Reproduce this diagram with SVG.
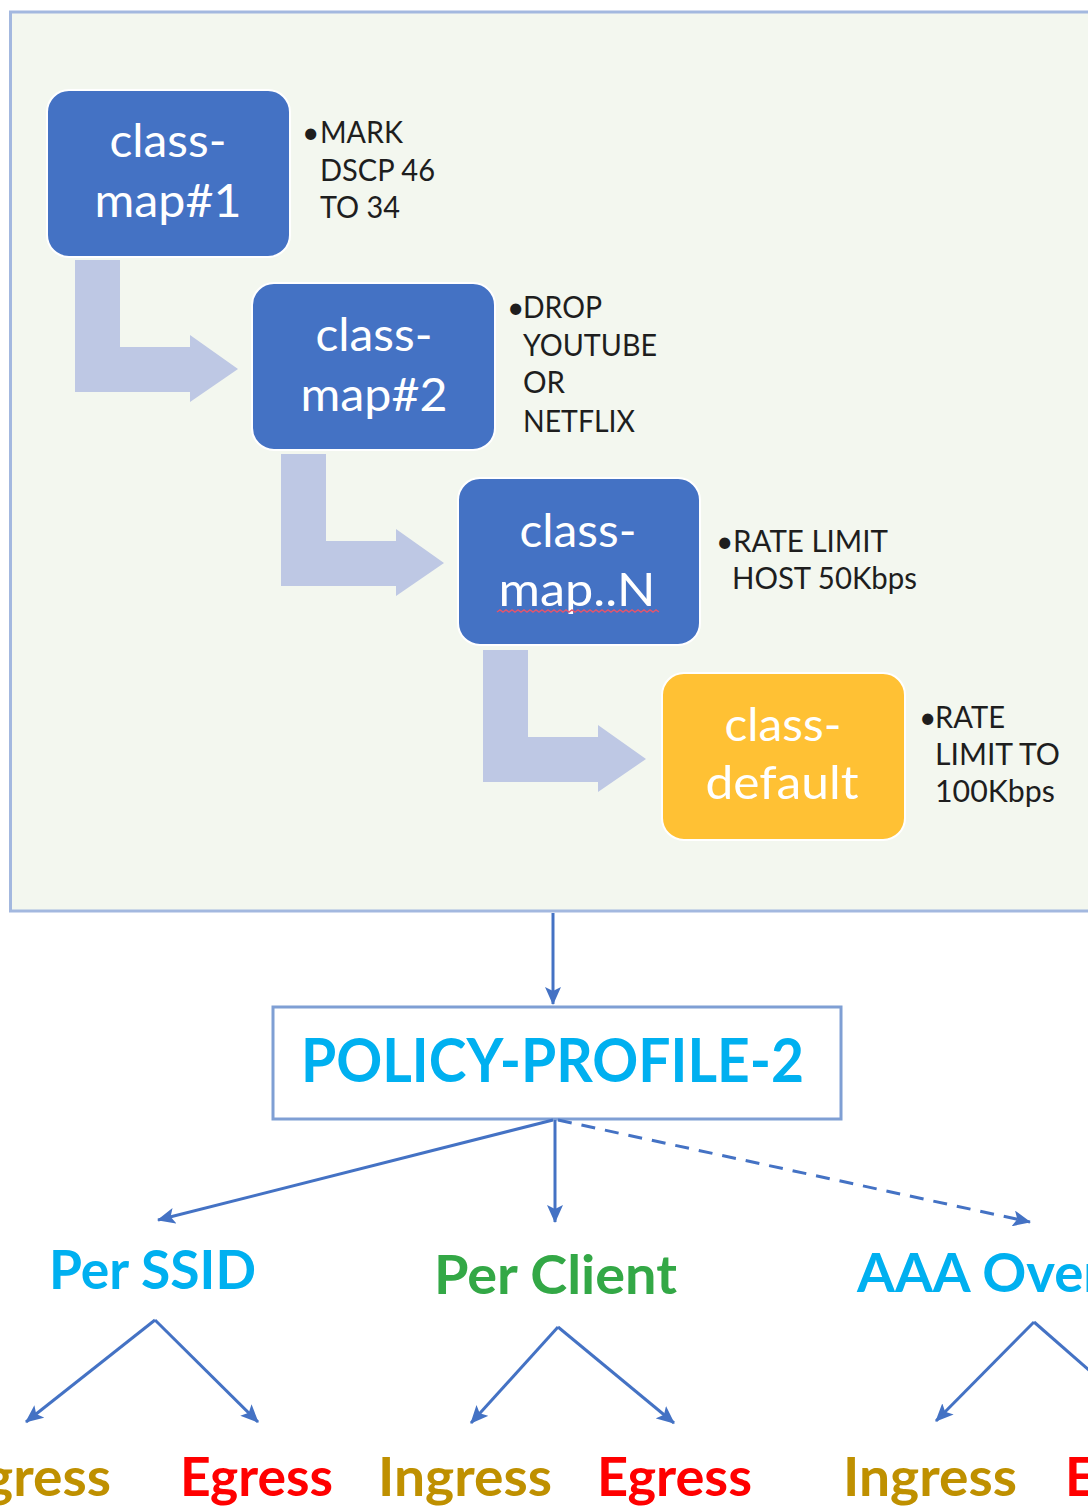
<svg xmlns="http://www.w3.org/2000/svg" width="1088" height="1506" viewBox="0 0 1088 1506">
<style>
text{font-family:Lato,"Liberation Sans",sans-serif}
.box{fill:#4472C4;stroke:#FFFFFF;stroke-width:2}
.boxd{fill:#FFC134;stroke:#FFFFFF;stroke-width:2}
.bt{fill:#FFFFFF;font-size:47px;text-anchor:middle}
.an{fill:#1E1E1E;font-size:30px}
.bent{fill:#BEC8E4}
.con{stroke:#4472C4;stroke-width:3;fill:none}
.lvl{font-size:54px;font-weight:bold}
.io{font-size:53px;font-weight:bold}
</style>
<defs>
<marker id="ah" markerUnits="userSpaceOnUse" markerWidth="18" markerHeight="16" refX="17" refY="8" orient="auto">
<path d="M0,0 L18,8 L0,16 L4,8 Z" fill="#4472C4"/>
</marker>
</defs>
<rect width="1088" height="1506" fill="#FFFFFF"/>
<g id="panel">
<rect x="10.5" y="12" width="1100" height="899" fill="#F3F7EF" stroke="#A3B8DF" stroke-width="3"/>
<path class="bent" d="M75,260 H120 V347 H190 V335 L238,369 L190,402 V392 H75 Z"/>
<path class="bent" d="M281,454 H326 V541 H396 V529 L444,563 L396,596 V586 H281 Z"/>
<path class="bent" d="M483,650 H528 V737 H598 V725 L646,759 L598,792 V782 H483 Z"/>
</g>
<g id="classmap1">
<rect class="box" x="47" y="90" width="243" height="167" rx="22"/>
<text class="bt" x="168" y="157" textLength="117" lengthAdjust="spacingAndGlyphs">class-</text>
<text class="bt" x="168" y="217" textLength="147" lengthAdjust="spacingAndGlyphs">map#1</text>
<text class="an"><tspan x="302" y="143">•</tspan><tspan x="320" y="143" textLength="83" lengthAdjust="spacingAndGlyphs">MARK</tspan></text>
<text class="an" x="320" y="181" textLength="115" lengthAdjust="spacingAndGlyphs">DSCP 46</text>
<text class="an" x="320" y="218" textLength="80" lengthAdjust="spacingAndGlyphs">TO 34</text>
</g>
<g id="classmap2">
<rect class="box" x="252" y="283" width="243" height="167" rx="22"/>
<text class="bt" x="374" y="351" textLength="117" lengthAdjust="spacingAndGlyphs">class-</text>
<text class="bt" x="374" y="411" textLength="147" lengthAdjust="spacingAndGlyphs">map#2</text>
<text class="an"><tspan x="507" y="318">•</tspan><tspan x="523" y="318" textLength="79" lengthAdjust="spacingAndGlyphs">DROP</tspan></text>
<text class="an" x="523" y="356" textLength="134" lengthAdjust="spacingAndGlyphs">YOUTUBE</text>
<text class="an" x="523" y="393" textLength="42" lengthAdjust="spacingAndGlyphs">OR</text>
<text class="an" x="523" y="432" textLength="112" lengthAdjust="spacingAndGlyphs">NETFLIX</text>
</g>
<g id="classmapN">
<rect class="box" x="458" y="478" width="242" height="167" rx="22"/>
<text class="bt" x="578" y="547" textLength="117" lengthAdjust="spacingAndGlyphs">class-</text>
<text class="bt" x="577" y="606" textLength="157" lengthAdjust="spacingAndGlyphs">map..N</text>
<path d="M497,612 l3,-2 l3,2 l3,-2 l3,2 l3,-2 l3,2 l3,-2 l3,2 l3,-2 l3,2 l3,-2 l3,2 l3,-2 l3,2 l3,-2 l3,2 l3,-2 l3,2 l3,-2 l3,2 l3,-2 l3,2 l3,-2 l3,2 l3,-2 l3,2 l3,-2 l3,2 l3,-2 l3,2 l3,-2 l3,2 l3,-2 l3,2 l3,-2 l3,2 l3,-2 l3,2 l3,-2 l3,2 l3,-2 l3,2 l3,-2 l3,2 l3,-2 l3,2 l3,-2 l3,2 l3,-2 l3,2 l3,-2 l3,2 l3,-2 l3,2" fill="none" stroke="#E0566E" stroke-width="1.5"/>
<text class="an"><tspan x="716" y="552">•</tspan><tspan x="733" y="552" textLength="155" lengthAdjust="spacingAndGlyphs">RATE LIMIT</tspan></text>
<text class="an" x="732" y="589" textLength="185" lengthAdjust="spacingAndGlyphs">HOST 50Kbps</text>
</g>
<g id="classdefault">
<rect class="boxd" x="662" y="673" width="243" height="167" rx="22"/>
<text class="bt" x="783" y="741" textLength="117" lengthAdjust="spacingAndGlyphs">class-</text>
<text class="bt" x="782" y="799" textLength="153" lengthAdjust="spacingAndGlyphs">default</text>
<text class="an"><tspan x="919" y="728">•</tspan><tspan x="935" y="728" textLength="70" lengthAdjust="spacingAndGlyphs">RATE</tspan></text>
<text class="an" x="935" y="765" textLength="125" lengthAdjust="spacingAndGlyphs">LIMIT TO</text>
<text class="an" x="935" y="802" textLength="120" lengthAdjust="spacingAndGlyphs">100Kbps</text>
</g>
<g id="policy">
<rect x="273" y="1007" width="568" height="112" fill="#FFFFFF" stroke="#7F9FD4" stroke-width="3"/>
<text x="301" y="1082" fill="#00B0F0" font-size="61" font-weight="bold" textLength="503" lengthAdjust="spacingAndGlyphs">POLICY-PROFILE-2</text>
</g>
<g id="perssid">
<text class="lvl" x="49" y="1289" fill="#00B0F0" textLength="207" lengthAdjust="spacingAndGlyphs">Per SSID</text>
</g>
<g id="perclient">
<text class="lvl" x="434" y="1294" fill="#33A846" textLength="243" lengthAdjust="spacingAndGlyphs">Per Client</text>
</g>
<g id="aaa">
<text class="lvl" x="857" y="1292" fill="#00B0F0" textLength="341" lengthAdjust="spacingAndGlyphs">AAA Override</text>
</g>
<g id="ssid-ingress"><text class="io" x="-63" y="1496" fill="#BF9000" textLength="174" lengthAdjust="spacingAndGlyphs">Ingress</text></g>
<g id="ssid-egress"><text class="io" x="180" y="1496" fill="#FF0000" textLength="153" lengthAdjust="spacingAndGlyphs">Egress</text></g>
<g id="client-ingress"><text class="io" x="378" y="1496" fill="#BF9000" textLength="174" lengthAdjust="spacingAndGlyphs">Ingress</text></g>
<g id="client-egress"><text class="io" x="597" y="1496" fill="#FF0000" textLength="155" lengthAdjust="spacingAndGlyphs">Egress</text></g>
<g id="aaa-ingress"><text class="io" x="843" y="1496" fill="#BF9000" textLength="174" lengthAdjust="spacingAndGlyphs">Ingress</text></g>
<g id="aaa-egress"><text class="io" x="1065" y="1496" fill="#FF0000" textLength="153" lengthAdjust="spacingAndGlyphs">Egress</text></g>
<g id="connectors">
<line class="con" x1="553" y1="913" x2="553" y2="1004" marker-end="url(#ah)"/>
<line class="con" x1="553" y1="1120" x2="158" y2="1220" marker-end="url(#ah)"/>
<line class="con" x1="555" y1="1120" x2="555" y2="1222" marker-end="url(#ah)"/>
<line class="con" x1="558" y1="1120" x2="1030" y2="1222" stroke-dasharray="14 10" marker-end="url(#ah)"/>
<line class="con" x1="155" y1="1320" x2="26" y2="1422" marker-end="url(#ah)"/>
<line class="con" x1="155" y1="1320" x2="258" y2="1422" marker-end="url(#ah)"/>
<line class="con" x1="558" y1="1327" x2="471" y2="1423" marker-end="url(#ah)"/>
<line class="con" x1="558" y1="1327" x2="674" y2="1423" marker-end="url(#ah)"/>
<line class="con" x1="1034" y1="1322" x2="936" y2="1421" marker-end="url(#ah)"/>
<line class="con" x1="1034" y1="1322" x2="1148" y2="1422" marker-end="url(#ah)"/>
</g>
</svg>
